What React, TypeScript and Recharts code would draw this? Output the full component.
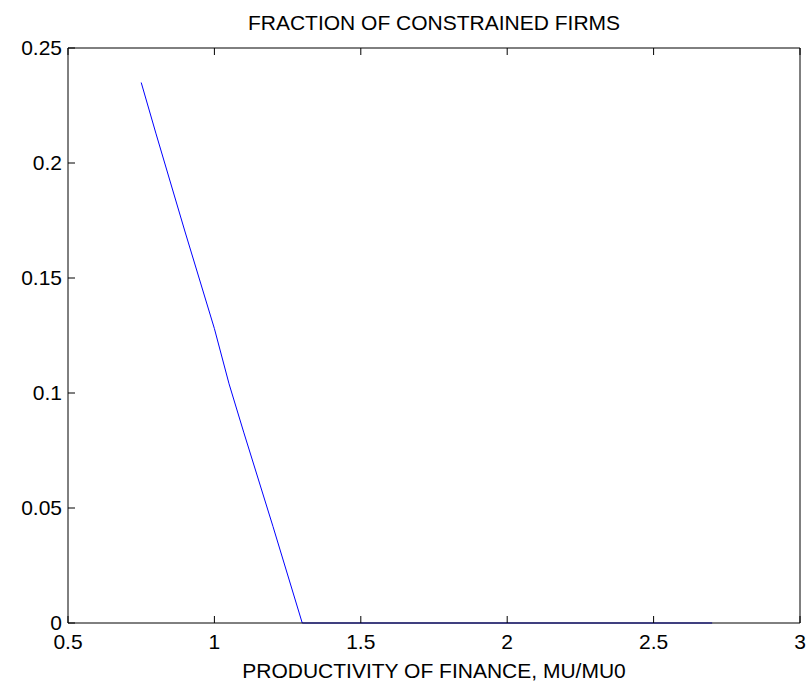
import React from "react";
import { LineChart, Line, XAxis, YAxis } from "recharts";

const muRatio = [0.75, 0.8, 0.9, 1.0, 1.05, 1.1, 1.2, 1.3, 1.5, 2.0, 2.5, 2.7];
const constrainedShare = [0.235, 0.213, 0.17, 0.128, 0.104, 0.083, 0.042, 0, 0, 0, 0, 0];
const xTicks = [0.5, 1, 1.5, 2, 2.5, 3];
const yTicks = [0, 0.05, 0.1, 0.15, 0.2, 0.25];

const data = muRatio.map((x, i) => ({ x, y: constrainedShare[i] }));

const FONT = "'Liberation Sans', Arial, sans-serif";
const TICK_LEN = 7;

const BottomTick = (props: any) => {
  const { x, y, payload } = props;
  return (
    <g>
      <line x1={x} y1={y} x2={x} y2={y - TICK_LEN} stroke="#000" />
      <text x={x} y={y + 26} textAnchor="middle" fontFamily={FONT} fontSize={21} fill="#000">
        {String(payload.value)}
      </text>
    </g>
  );
};

const TopTick = (props: any) => {
  const { x, y } = props;
  return <line x1={x} y1={y} x2={x} y2={y + TICK_LEN} stroke="#000" />;
};

const LeftTick = (props: any) => {
  const { x, y, payload } = props;
  return (
    <g>
      <line x1={x} y1={y} x2={x + TICK_LEN} y2={y} stroke="#000" />
      <text x={x - 6} y={y + 7} textAnchor="end" fontFamily={FONT} fontSize={21} fill="#000">
        {String(payload.value)}
      </text>
    </g>
  );
};

const RightTick = (props: any) => {
  const { x, y } = props;
  return <line x1={x} y1={y} x2={x - TICK_LEN} y2={y} stroke="#000" />;
};

const AxisTitle = (props: any) => {
  const { viewBox, text, dy } = props;
  if (!viewBox) return null;
  return (
    <text
      x={viewBox.x + viewBox.width / 2}
      y={viewBox.y + dy}
      textAnchor="middle"
      fontFamily={FONT}
      fontSize={21}
      fill="#000"
    >
      {text}
    </text>
  );
};

export default function App() {
  return (
    <div style={{ position: "absolute", left: 0, top: 0, background: "#fff" }}>
      <LineChart
        width={810}
        height={684}
        data={data}
        margin={{ top: 47, right: 9, bottom: 21, left: 8 }}
      >
        <XAxis
          xAxisId="bottom"
          dataKey="x"
          type="number"
          domain={[0.5, 3]}
          ticks={xTicks}
          orientation="bottom"
          height={40}
          tickSize={0}
          tickMargin={0}
          tick={<BottomTick />}
          axisLine={{ stroke: "#000" }}
          interval={0}
          label={<AxisTitle text="PRODUCTIVITY OF FINANCE, MU/MU0" dy={55} />}
        />
        <XAxis
          xAxisId="top"
          dataKey="x"
          type="number"
          domain={[0.5, 3]}
          ticks={xTicks}
          orientation="top"
          height={1}
          tickSize={0}
          tickMargin={0}
          tick={<TopTick />}
          axisLine={{ stroke: "#000" }}
          interval={0}
          label={<AxisTitle text="FRACTION OF CONSTRAINED FIRMS" dy={-17} />}
        />
        <YAxis
          yAxisId="left"
          type="number"
          domain={[0, 0.25]}
          ticks={yTicks}
          orientation="left"
          width={60}
          tickSize={0}
          tickMargin={0}
          tick={<LeftTick />}
          axisLine={{ stroke: "#000" }}
          interval={0}
        />
        <YAxis
          yAxisId="right"
          type="number"
          domain={[0, 0.25]}
          ticks={yTicks}
          orientation="right"
          width={1}
          tickSize={0}
          tickMargin={0}
          tick={<RightTick />}
          axisLine={{ stroke: "#000" }}
          interval={0}
        />
        <Line
          xAxisId="bottom"
          yAxisId="left"
          dataKey="y"
          type="linear"
          stroke="#0000ff"
          strokeWidth={1}
          dot={false}
          isAnimationActive={false}
        />
      </LineChart>
    </div>
  );
}
